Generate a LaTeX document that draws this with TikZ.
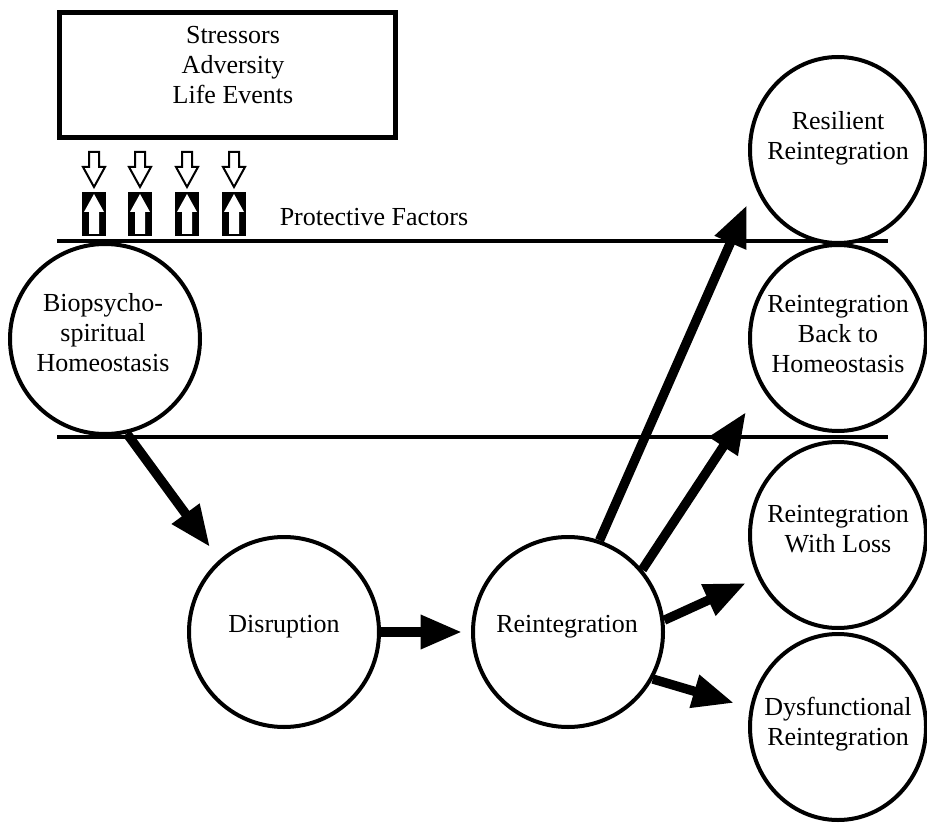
\documentclass[tikz,border=0pt]{standalone}
\usepackage{fontspec}
\setmainfont{Liberation Serif}
\usetikzlibrary{arrows.meta,shapes.geometric}
\begin{document}
\begin{tikzpicture}[x=0.75pt,y=-0.75pt,
  txt/.style={font=\fontsize{19.5}{22.5}\selectfont, align=center, inner sep=0pt},
  ring/.style={circle, draw, line width=3pt, minimum size=142.5pt, inner sep=0pt, fill=white},
  oval/.style={ellipse, draw, line width=3pt, minimum width=132pt, minimum height=139.5pt, inner sep=0pt, fill=white},
  bigarrow/.style={line width=7pt, -{Triangle[length=31pt,width=24pt]}},
  hline/.style={line width=3pt},
  hollow/.style={draw, line width=1.5pt, fill=white, line join=miter},
  protect/.style={fill=black}]
\useasboundingbox (0,0) rectangle (927,823);

% top box
\node[draw, line width=3.75pt, minimum width=252pt, minimum height=93.75pt, inner sep=0pt] (box) at (227.5,75) {};
\node[txt] (stress) at (233,65) {Stressors\\Adversity\\Life Events};

% stress arrows and protective blocks
\foreach \x in {94,140,187,234}{
  \draw[hollow] (\x-5,152) -- (\x+5,152) -- (\x+5,167) -- (\x+11,167) -- (\x,187) -- (\x-11,167) -- (\x-5,167) -- cycle;
  \fill[protect] (\x-12,192) rectangle (\x+12,236);
  \fill[white] (\x,194) -- (\x+10,212) -- (\x+5,212) -- (\x+5,234) -- (\x-5,234) -- (\x-5,212) -- (\x-10,212) -- cycle;
}
\node[txt] (prot) at (374,217) {Protective Factors};

% horizontal lines
\coordinate (l1a) at (57,241); \coordinate (l1b) at (888,241);
\coordinate (l2a) at (57,437); \coordinate (l2b) at (888,437);
\draw[hline] (l1a) -- (l1b);
\draw[hline] (l2a) -- (l2b);

% circles
\node[ring] (bio) at (105,339) {};
\node[txt] (biot) at (103,333) {Biopsycho-\\spiritual\\Homeostasis};
\node[ring] (dis) at (284,632) {};
\node[txt] (dist) at (284,627) {Disruption};
\node[ring] (rei) at (568,632) {};
\node[txt] (reit) at (567,627) {Reintegration};

\node[oval] (res) at (838,150) {};
\node[txt] (rest) at (838,138) {Resilient\\Reintegration};
\node[oval] (back) at (838,338) {};
\node[txt] (backt) at (838,334) {Reintegration\\Back to\\Homeostasis};
\node[oval] (loss) at (838,535) {};
\node[txt] (losst) at (838,529) {Reintegration\\With Loss};
\node[oval] (dys) at (838,727) {};
\node[txt] (dyst) at (838,724) {Dysfunctional\\Reintegration};

% arrows
\coordinate (t1) at (210,547);
\coordinate (t2) at (462,632);
\coordinate (t3) at (747,205);
\coordinate (t4) at (746,412);
\coordinate (t5) at (746,583);
\coordinate (t6) at (734,703);
\draw[bigarrow] (bio.-77) -- (t1);
\draw[bigarrow] (dis.east) -- (t2);
\draw[bigarrow] (rei.71) -- (t3);
\draw[bigarrow] (rei.40) -- (t4);
\draw[bigarrow] (rei.7) -- (t5);
\draw[bigarrow] (rei.-29) -- (t6);
\end{tikzpicture}
\end{document}
